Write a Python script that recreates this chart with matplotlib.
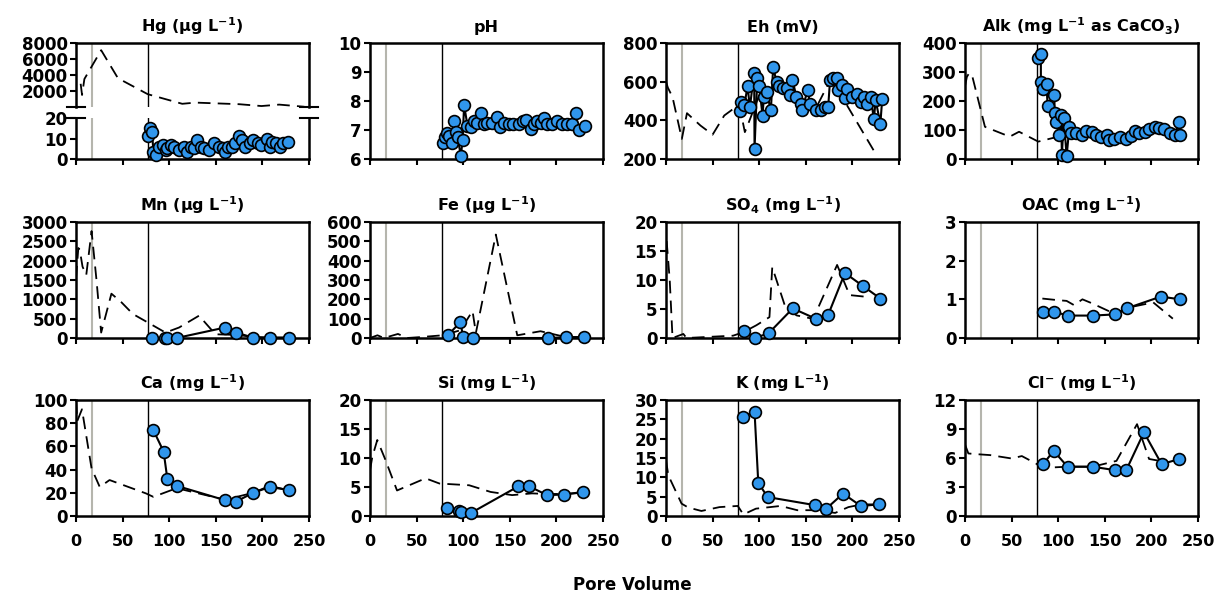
import numpy as np
from matplotlib import pyplot as plt

plt.rcParams['font.family'] = ['DejaVu Sans']
plt.rcParams['font.weight'] = 'bold'
plt.rcParams['mathtext.fontset'] = 'custom'
plt.rcParams['mathtext.rm'] = 'DejaVu Sans:bold'
plt.rcParams['mathtext.it'] = 'DejaVu Sans:bold'
plt.rcParams['mathtext.bf'] = 'DejaVu Sans:bold'

BLUE = '#3096ec'
GRAY = '#b5b5ad'
GRAY_PV = 17
BLACK_PV = 77
FS = 11.5

# ---- row 1: dense sampling ----
hg_pv = [77.7, 79.4, 81.6, 83, 85.8, 89.4, 93, 96.5, 98, 102, 105, 110.6, 116, 119.5, 123, 126.6, 130,
         133.7, 137, 142.5, 148, 153, 157.4, 160, 163, 167, 171, 175, 178, 181.5, 187, 190, 195, 199,
         204.6, 208, 210.6, 215, 219, 222, 227.6]
hg_val = [11, 15, 13.4, 3.6, 2, 6, 7, 4.4, 5.2, 6.9, 6, 4.4, 6, 3.6, 6, 5.2, 9.3, 6, 5.2, 4.4, 8, 6, 5.2,
          3.6, 6, 6, 7.7, 11, 9.3, 6, 7.7, 9.3, 7.7, 7, 9.7, 6, 8.5, 7.7, 6, 7.7, 8.5]
hg_dash_pv = [5, 6.5, 9, 27, 45, 77, 114, 128, 175, 199, 218, 245]
hg_dash_val = [2900, 1500, 3500, 7100, 3600, 1600, 400, 550, 350, 120, 300, 30]

ph_pv = [77.9, 80.4, 82.5, 85, 87.5, 89.6, 92, 94, 97.5, 99.3, 101, 104.6, 108, 112, 115, 119, 122, 126,
         131, 136, 140, 144, 149, 153, 160, 164, 167, 172.5, 176, 179.6, 183, 186.8, 190, 195, 201, 206,
         211.8, 217, 220.7, 224, 231]
ph_val = [6.54, 6.75, 6.9, 6.8, 6.54, 7.3, 6.92, 6.75, 6.1, 6.65, 7.85, 7.15, 7.1, 7.3, 7.25, 7.6, 7.2,
          7.25, 7.25, 7.45, 7.1, 7.25, 7.2, 7.2, 7.2, 7.3, 7.35, 7.05, 7.2, 7.3, 7.25, 7.4, 7.2, 7.2, 7.3,
          7.2, 7.2, 7.2, 7.6, 7.0, 7.15]

eh_pv = [79.6, 81, 84, 87.5, 90, 94.6, 95, 98, 100, 103.6, 105, 108, 112.5, 115, 118.6, 121, 126, 130,
         133, 135.7, 140, 144.6, 146, 152, 154.6, 160.7, 166, 170.7, 174, 176, 179.6, 183, 184.6, 189.3,
         191.8, 194.6, 200, 205, 209, 212.5, 216, 219.6, 223, 225, 230, 232]
eh_val = [446, 494, 477, 576, 468, 645, 252, 621, 576, 425, 520, 546, 451, 676, 598, 576, 569, 569, 529,
          610, 520, 486, 451, 558, 483, 451, 455, 468, 468, 607, 621, 621, 555, 581, 517, 564, 520, 534,
          494, 520, 486, 520, 408, 503, 382, 512]
eh_dash_pv = [0, 2, 7, 17, 22.5, 37, 50, 62.5, 78.6, 84.6, 87.5, 100, 120, 140, 160, 177, 189, 223]
eh_dash_val = [600, 569, 520, 304, 437, 373, 326, 425, 482, 339, 373, 530, 570, 500, 455, 615, 520, 243]

alk_pv = [78.6, 81.4, 81.4, 84, 87.5, 88.6, 95.7, 96.4, 98, 100.7, 103, 104, 106, 109, 112, 114, 119, 125,
          130, 136, 141, 146, 152, 155, 160, 166, 173, 178, 182, 187, 193, 197, 203.6, 208, 214, 219.6,
          225, 229.6, 231]
alk_val = [350, 363, 266, 243, 260, 182, 220, 157, 128, 82, 151, 14, 143, 10, 109, 88, 90, 83, 96, 94, 82,
           75, 83, 65, 70, 77, 68, 80, 97, 90, 94, 105, 111, 108, 102, 88, 83, 128, 83]
alk_dash_pv = [0, 2, 4.6, 8, 21.4, 48, 58, 78.6, 100]
alk_dash_val = [251, 283, 297, 283, 111, 77, 94, 60, 77]

# ---- rows 2 and 3 ----
mn_pv = [82, 95, 98, 108, 160, 172, 190, 208, 229]
mn_val = [0, 0, 0, 0, 271, 140, 9, 9, 9]
mn_dash_pv = [0, 2.5, 4, 7, 11, 16.7, 22, 27, 38, 48.6, 61, 77, 96, 110.6, 132, 149.6, 172, 190, 208, 229]
mn_dash_val = [1540, 2327, 2284, 1846, 1627, 2765, 1496, 140, 1146, 927, 621, 402, 140, 271, 577, 96, 80,
               30, 10, 10]

fe_pv = [84, 97, 100, 110, 191, 210, 230]
fe_val = [17, 82, 4, 0, 0, 4, 4]
fe_dash_pv = [0, 8, 15, 30, 40, 55, 78, 97, 110, 113.6, 135, 158, 183, 210, 230]
fe_dash_val = [0, 14, 0, 21, 0, 5, 14, 40, 140, 26, 535, 14, 35, 5, 5]

so4_pv = [84, 95, 110, 136, 161, 174, 192, 211, 230]
so4_val = [1.2, 0, 0.8, 5.1, 3.3, 4, 11.2, 9, 6.8]
so4_dash_pv = [0.7, 4, 7, 18.6, 22, 72, 83, 97, 111, 114, 127.5, 140, 158, 183.6, 197, 215]
so4_dash_val = [16.7, 10, 0, 0.7, 0, 0.4, 1, 2.2, 3.6, 12.2, 5.6, 3.9, 3.3, 12.6, 7.4, 7.1]

oac_pv = [84, 96, 110, 137, 161, 174, 210, 231]
oac_val = [0.66, 0.68, 0.58, 0.58, 0.61, 0.77, 1.07, 1.0]
oac_dash_pv = [83, 99, 109, 117, 126, 136, 161, 174, 202, 223]
oac_dash_val = [1.02, 0.98, 0.96, 0.85, 1.0, 0.9, 0.62, 0.78, 0.92, 0.5]

ca_pv = [83, 94, 98, 108, 160, 172, 190, 208, 229]
ca_val = [74, 55.6, 32, 26, 13.6, 12.5, 20, 25, 22.3]
ca_dash_pv = [0, 1.4, 6.4, 16.7, 25.5, 36, 75, 83, 108, 160, 190, 208, 229]
ca_dash_val = [99, 82, 92, 41, 25, 31, 19.5, 16.5, 24, 14, 20, 26, 22]

si_pv = [83, 96, 98, 108, 159, 171, 190, 208, 229]
si_val = [1.44, 0.86, 0.7, 0.5, 5.1, 5.1, 3.6, 3.7, 4.15]
si_dash_pv = [0, 2.5, 7.8, 16, 29, 59.6, 74.5, 106.4, 129.4, 152.5, 173.8, 190, 208, 229]
si_dash_val = [7.9, 10.2, 13.1, 9.9, 4.4, 6.5, 5.6, 5.3, 4.15, 3.6, 3.9, 3.8, 3.8, 4.0]

k_pv = [83, 95, 99, 109, 160, 172, 190, 209, 229]
k_val = [25.7, 27, 8.6, 4.9, 2.8, 1.9, 5.8, 2.6, 3.0]
k_dash_pv = [0, 2.5, 16.7, 23.8, 38, 57.4, 77, 83, 96.5, 123, 140.8, 160, 181.5, 195.7, 210, 228]
k_dash_val = [14.4, 10.5, 3.2, 2.2, 1.3, 2.3, 2.6, 0.4, 1.9, 2.6, 1.5, 1.5, 0.8, 2.3, 3.0, 3.0]

cl_pv = [84, 95, 110, 137, 161, 173, 192, 211, 230]
cl_val = [5.36, 6.75, 5.1, 5.1, 4.74, 4.74, 8.65, 5.36, 5.9]
cl_dash_pv = [0, 3.6, 12, 27, 50, 61, 78.6, 89, 110, 137, 162.5, 184.6, 197.5, 209]
cl_dash_val = [7.4, 6.47, 6.4, 6.3, 5.95, 6.2, 5.3, 5.0, 5.1, 5.1, 5.7, 9.5, 5.9, 5.7]

# figure layout in pixels (1228 x 601)
W, H = 1228, 601
COL_LEFT = [76, 370, 666, 965]
ROW_TOP = [43, 222, 400]
AX_W, AX_H = 233, 116


def rect(left, top, w, h):
    return [left / W, 1 - (top + h) / H, w / W, h / H]


def style_axes(ax, show_xlabels):
    for sp in ax.spines.values():
        sp.set_linewidth(1.8)
    ax.tick_params(direction='out', length=4, width=1.5, labelsize=FS, pad=2)
    ax.tick_params(axis='y', labelsize=12)
    ax.tick_params(axis='x', pad=9)
    ax.set_xlim(0, 250)
    ax.set_xticks(np.arange(0, 251, 50))
    if not show_xlabels:
        ax.set_xticklabels([])


def draw_lines(ax, pv, val, dash_pv, dash_val):
    ax.axvline(GRAY_PV, color=GRAY, lw=1.5, zorder=1)
    ax.axvline(BLACK_PV, color='black', lw=1.0, zorder=1)
    if dash_pv is not None:
        ax.plot(dash_pv, dash_val, color='black', lw=1.3, ls=(0, (7, 4)), zorder=2)
    if pv is not None:
        ax.plot(pv, val, color='black', lw=1.5, marker='o', ms=8.5, mfc=BLUE, mec='black',
                mew=1.2, zorder=3, clip_on=False)


def panel(row, col, title, pv, val, dash_pv, dash_val, ylim, ystep):
    ax = fig.add_axes(rect(COL_LEFT[col], ROW_TOP[row], AX_W, AX_H))
    draw_lines(ax, pv, val, dash_pv, dash_val)
    ax.set_ylim(*ylim)
    ax.set_yticks(np.arange(ylim[0], ylim[1] + ystep / 2, ystep))
    style_axes(ax, row == 2)
    ax.set_title(title, fontsize=FS, fontweight='bold', pad=8)
    return ax


fig = plt.figure(figsize=(W / 100, H / 100), dpi=100)

# Hg with broken axis
hg_top = fig.add_axes(rect(COL_LEFT[0], 43, AX_W, 64))
hg_bot = fig.add_axes(rect(COL_LEFT[0], 118, AX_W, 41))
draw_lines(hg_top, None, None, hg_dash_pv, hg_dash_val)
draw_lines(hg_bot, hg_pv, hg_val, None, None)
hg_top.set_ylim(0, 8000)
hg_top.set_yticks([2000, 4000, 6000, 8000])
hg_bot.set_ylim(0, 20)
hg_bot.set_yticks([0, 10, 20])
style_axes(hg_top, False)
style_axes(hg_bot, False)
hg_top.spines['bottom'].set_visible(False)
hg_top.tick_params(axis='x', bottom=False)
hg_bot.spines['top'].set_visible(False)
hg_top.set_title('Hg (µg L$^{-1}$)', fontsize=FS, fontweight='bold', pad=8)
d = 9 / AX_W
for xs in (0, 1):
    hg_top.plot([xs - d, xs + d], [0, 0], transform=hg_top.transAxes, color='black', lw=1.5, clip_on=False)
    hg_bot.plot([xs - d, xs + d], [1, 1], transform=hg_bot.transAxes, color='black', lw=1.5, clip_on=False)

panel(0, 1, 'pH', ph_pv, ph_val, None, None, (6, 10), 1)
panel(0, 2, 'Eh (mV)', eh_pv, eh_val, eh_dash_pv, eh_dash_val, (200, 800), 200)
panel(0, 3, 'Alk (mg L$^{-1}$ as CaCO$_{3}$)', alk_pv, alk_val, alk_dash_pv, alk_dash_val, (0, 400), 100)

panel(1, 0, 'Mn (µg L$^{-1}$)', mn_pv, mn_val, mn_dash_pv, mn_dash_val, (0, 3000), 500)
panel(1, 1, 'Fe (µg L$^{-1}$)', fe_pv, fe_val, fe_dash_pv, fe_dash_val, (0, 600), 100)
panel(1, 2, 'SO$_{4}$ (mg L$^{-1}$)', so4_pv, so4_val, so4_dash_pv, so4_dash_val, (0, 20), 5)
panel(1, 3, 'OAC (mg L$^{-1}$)', oac_pv, oac_val, oac_dash_pv, oac_dash_val, (0, 3), 1)

panel(2, 0, 'Ca (mg L$^{-1}$)', ca_pv, ca_val, ca_dash_pv, ca_dash_val, (0, 100), 20)
panel(2, 1, 'Si (mg L$^{-1}$)', si_pv, si_val, si_dash_pv, si_dash_val, (0, 20), 5)
panel(2, 2, 'K (mg L$^{-1}$)', k_pv, k_val, k_dash_pv, k_dash_val, (0, 30), 5)
panel(2, 3, 'Cl$^{-}$ (mg L$^{-1}$)', cl_pv, cl_val, cl_dash_pv, cl_dash_val, (0, 12), 3)

fig.text(632 / W, 1 - 585 / H, 'Pore Volume', ha='center', va='center', fontsize=12, fontweight='bold')

fig.savefig('out.png', dpi=100)
